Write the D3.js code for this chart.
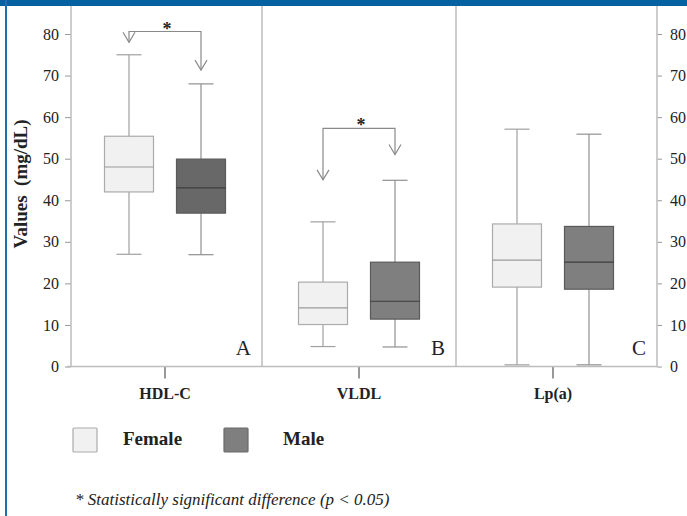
<!DOCTYPE html>
<html>
<head>
<meta charset="utf-8">
<script src="https://cdn.jsdelivr.net/npm/d3@7"></script>
<style>
  html, body { margin: 0; padding: 0; background: #fff; }
  svg { display: block; }
  text { font-family: "Liberation Serif", "Times New Roman", serif; fill: #222; }
</style>
</head>
<body>
<svg id="chart" width="687" height="516"></svg>
<script>
// ---------- data ----------
const categories = ["HDL-C", "VLDL", "Lp(a)"];
const groups = ["Female", "Male"];
const panelLetters = ["A", "B", "C"];
// five-number summaries [min, q1, median, q3, max] per category
const femaleStats = [
  [27, 42, 48, 55.4, 75],
  [4.8, 10.1, 14.1, 20.3, 34.8],
  [0.4, 19.1, 25.6, 34.3, 57.1]
];
const maleStats = [
  [26.9, 36.9, 43, 49.9, 68],
  [4.7, 11.4, 15.7, 25.1, 44.8],
  [0.4, 18.6, 25.1, 33.7, 55.9]
];
const yTicks = [0, 10, 20, 30, 40, 50, 60, 70, 80];
// significance brackets: category, bracket level, female arrow tip, male arrow tip
const sigCategories = ["HDL-C", "VLDL"];
const sigLevels = [80.6, 57.3];
const sigFemaleTips = [78, 44.9];
const sigMaleTips = [71.3, 51];
const footnote = "* Statistically significant difference (p < 0.05)";
const yTitle = "Values\u00a0\u00a0(mg/dL)";

// ---------- layout ----------
const svg = d3.select("#chart");
const pLeft = 71, pRight = 657, pBottom = 366.5, pTop = 6;
const y = d3.scaleLinear().domain([0, 80]).range([pBottom, 34]);
const x = d3.scaleBand().domain(categories).range([68, 650]).paddingInner(0).paddingOuter(0);
const sub = d3.scalePoint().domain(groups).range([-36, 36]);
const boxW = 49, capW = 25;
const axisColor = "#bdbdbd";
const femaleFill = "#f1f1f1", femaleStroke = "#ababab";
const maleFill = {"HDL-C": "#686868", "VLDL": "#7f7f7f", "Lp(a)": "#7f7f7f"};
const maleStroke = "#5a5a5a";
const serif = "'Liberation Serif', serif";

// frame: blue top bar and left border
svg.append("rect").attr("x", 0).attr("y", 0).attr("width", 687).attr("height", 6).attr("fill", "#0561a0");
svg.append("rect").attr("x", 5).attr("y", 0).attr("width", 2).attr("height", 516).attr("fill", "#1f6fb0");

// panel dividers
categories.slice(1).forEach(c => {
  svg.append("line").attr("x1", x(c)).attr("x2", x(c)).attr("y1", pTop).attr("y2", pBottom)
    .attr("stroke", axisColor).attr("stroke-width", 1.5);
});

// left axis
const gL = svg.append("g").attr("transform", `translate(${pLeft},0)`)
  .call(d3.axisLeft(y).tickValues(yTicks).tickSize(6).tickPadding(6).tickFormat(d3.format("d")));
gL.select(".domain").remove();
gL.append("line").attr("x1", 0).attr("x2", 0).attr("y1", pTop).attr("y2", pBottom).attr("stroke", axisColor).attr("stroke-width", 1.5);
// right axis
const gR = svg.append("g").attr("transform", `translate(${pRight},0)`)
  .call(d3.axisRight(y).tickValues(yTicks).tickSize(5).tickPadding(8).tickFormat(d3.format("d")));
gR.select(".domain").remove();
gR.append("line").attr("x1", 0).attr("x2", 0).attr("y1", pTop).attr("y2", pBottom).attr("stroke", axisColor).attr("stroke-width", 1.5);
[gL, gR].forEach(g => {
  g.attr("font-family", serif).attr("font-size", 16);
  g.selectAll(".tick line").attr("stroke", "#999");
  g.selectAll(".tick text").attr("fill", "#222");
});

// bottom axis
const gB = svg.append("g").attr("transform", `translate(0,${pBottom})`)
  .call(d3.axisBottom(x).tickSize(12).tickPadding(9));
gB.attr("font-family", serif).attr("font-size", 16).attr("font-weight", "bold");
gB.select(".domain").remove();
gB.append("line").attr("x1", pLeft - 4).attr("x2", pRight).attr("y1", 0).attr("y2", 0).attr("stroke", axisColor).attr("stroke-width", 1.5);
gB.selectAll(".tick line").attr("stroke", "#333");
gB.selectAll(".tick text").attr("fill", "#222");

// boxes
function drawBox(cat, grp, s, fill, stroke, whisk, med) {
  const cx = x(cat) + x.bandwidth() / 2 + sub(grp);
  const g = svg.append("g");
  g.append("line").attr("x1", cx).attr("x2", cx).attr("y1", y(s[0])).attr("y2", y(s[1])).attr("stroke", whisk).attr("stroke-width", 1.2);
  g.append("line").attr("x1", cx).attr("x2", cx).attr("y1", y(s[3])).attr("y2", y(s[4])).attr("stroke", whisk).attr("stroke-width", 1.2);
  [s[0], s[4]].forEach(v => g.append("line").attr("x1", cx - capW / 2).attr("x2", cx + capW / 2)
    .attr("y1", y(v)).attr("y2", y(v)).attr("stroke", whisk).attr("stroke-width", 1.2));
  g.append("rect").attr("x", cx - boxW / 2).attr("y", y(s[3])).attr("width", boxW).attr("height", y(s[1]) - y(s[3]))
    .attr("fill", fill).attr("stroke", stroke).attr("stroke-width", 1.2);
  g.append("line").attr("x1", cx - boxW / 2).attr("x2", cx + boxW / 2).attr("y1", y(s[2])).attr("y2", y(s[2]))
    .attr("stroke", med).attr("stroke-width", 1.2);
}
categories.forEach((c, i) => {
  drawBox(c, "Female", femaleStats[i], femaleFill, femaleStroke, "#a0a0a0", "#9a9a9a");
  drawBox(c, "Male", maleStats[i], maleFill[c], maleStroke, "#909090", "#3c3c3c");
});

// panel letters
categories.forEach((c, i) => {
  const edge = i < categories.length - 1 ? x(categories[i + 1]) : pRight;
  svg.append("text").attr("x", edge - 11).attr("y", 355)
    .attr("text-anchor", "end").style("font-size", "21px").text(panelLetters[i]);
});

// significance brackets
sigCategories.forEach((c, i) => {
  const xf = x(c) + x.bandwidth() / 2 + sub("Female");
  const xm = x(c) + x.bandwidth() / 2 + sub("Male");
  const yl = y(sigLevels[i]), yf = y(sigFemaleTips[i]), ym = y(sigMaleTips[i]);
  const st = "#8a8a8a";
  svg.append("path").attr("d", `M${xf},${yf}V${yl}H${xm}V${ym}`).attr("fill", "none").attr("stroke", st).attr("stroke-width", 1.2);
  [[xf, yf], [xm, ym]].forEach(([ax, ay]) => {
    svg.append("path").attr("d", `M${ax - 6},${ay - 10}L${ax},${ay}L${ax + 6},${ay - 10}`)
      .attr("fill", "none").attr("stroke", st).attr("stroke-width", 1.2);
  });
  svg.append("text").attr("x", (xf + xm) / 2 + 2).attr("y", yl + 3).attr("text-anchor", "middle")
    .style("font-size", "18px").style("font-weight", "bold").text("*");
});

// y title
svg.append("text").attr("transform", `translate(27,${184}) rotate(-90)`).attr("text-anchor", "middle")
  .style("font-size", "19px").style("font-weight", "bold").text(yTitle);

// legend
const legend = [
  {name: groups[0], fill: femaleFill, stroke: femaleStroke, x: 73, tx: 123},
  {name: groups[1], fill: "#7f7f7f", stroke: "#6a6a6a", x: 224, tx: 283}
];
legend.forEach(l => {
  svg.append("rect").attr("x", l.x).attr("y", 428).attr("width", 24).attr("height", 24).attr("rx", 1)
    .attr("fill", l.fill).attr("stroke", l.stroke).attr("stroke-width", 1.2);
  svg.append("text").attr("x", l.tx).attr("y", 445).style("font-size", "19px").style("font-weight", "bold").text(l.name);
});

// footnote
svg.append("text").attr("x", 75).attr("y", 505).style("font-size", "17px").style("font-style", "italic").text(footnote);
</script>
</body>
</html>
